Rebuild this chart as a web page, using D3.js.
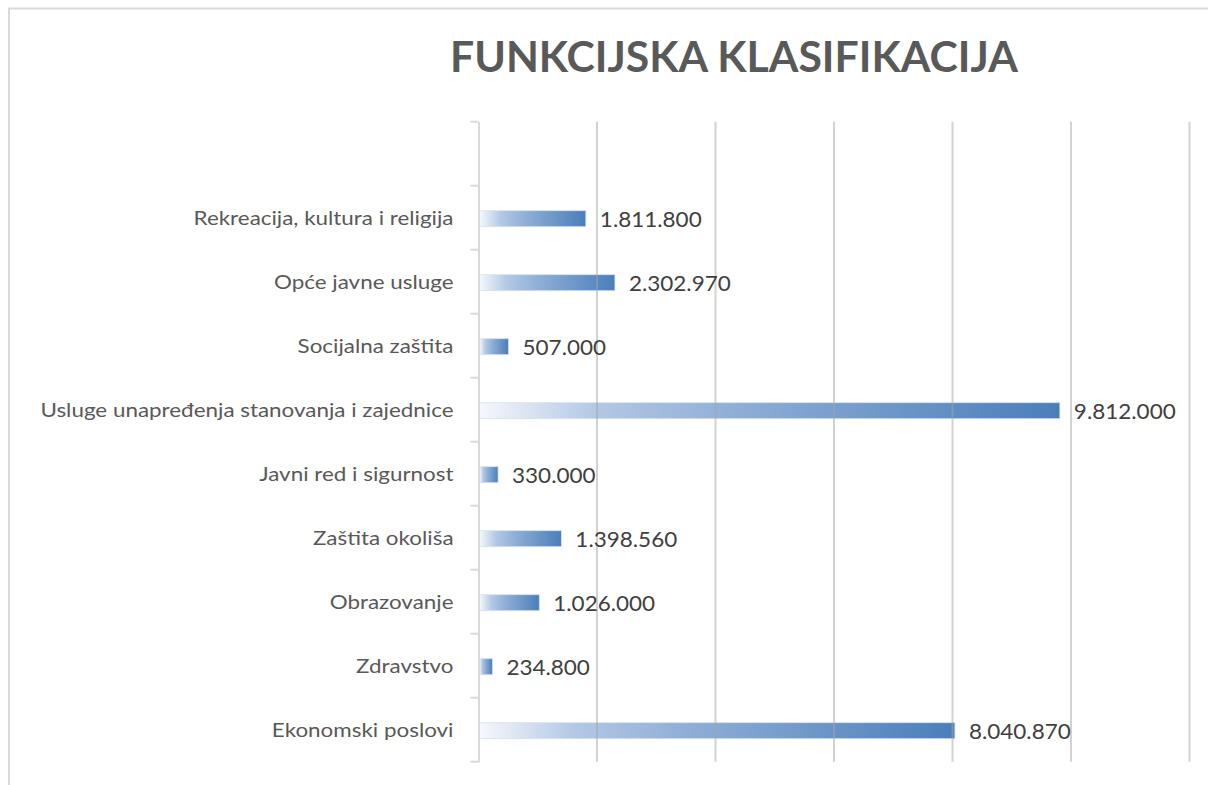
<!DOCTYPE html>
<html>
<head>
<meta charset="utf-8">
<script src="https://cdn.jsdelivr.net/npm/d3@7"></script>
<style>
  html, body { margin: 0; padding: 0; background: #fff; }
  svg { display: block; }
</style>
</head>
<body>
<svg id="chart" width="1208" height="785"></svg>
<script>
const title = "FUNKCIJSKA KLASIFIKACIJA";
// categories top to bottom (first slot empty, as in the reference)
const categories = [
  "",
  "Rekreacija, kultura i religija",
  "Opće javne usluge",
  "Socijalna zaštita",
  "Usluge unapređenja stanovanja i zajednice",
  "Javni red i sigurnost",
  "Zaštita okoliša",
  "Obrazovanje",
  "Zdravstvo",
  "Ekonomski poslovi"
];
const values = [null, 1811800, 2302970, 507000, 9812000, 330000, 1398560, 1026000, 234800, 8040870];
const xTicks = [0, 2000000, 4000000, 6000000, 8000000, 10000000, 12000000];

const svg = d3.select("#chart");
const locale = d3.formatLocale({decimal: ",", thousands: ".", grouping: [3], currency: ["", " kn"]});
const fmt = locale.format(",d");

// chart frame
svg.append("path")
  .attr("d", "M9,785 V8.5 H1208")
  .attr("fill", "none").attr("stroke", "#d9d9d9").attr("stroke-width", 2);

// title
svg.append("text")
  .attr("x", 734).attr("y", 72)
  .attr("text-anchor", "middle")
  .attr("font-family", "Lato, 'Open Sans', sans-serif")
  .attr("font-weight", "bold")
  .attr("font-size", 42)
  .attr("fill", "#595959")
  .attr("textLength", 568)
  .attr("lengthAdjust", "spacingAndGlyphs")
  .text(title);

const x = d3.scaleLinear().domain([0, 12000000]).range([478.5, 1189.5]);
const y = d3.scaleBand().domain(categories).range([121.7, 761.7]).padding(0);

// gradient
const defs = svg.append("defs");
const grad = defs.append("linearGradient").attr("id", "barGrad")
  .attr("x1", "0%").attr("x2", "100%").attr("y1", "0%").attr("y2", "0%");
[[0, "#f6f8fc"], [0.2, "#b3c8e4"], [0.45, "#8dadd6"], [1, "#4a7ebb"]].forEach(([o, c]) =>
  grad.append("stop").attr("offset", o).attr("stop-color", c));

const data = categories.map((c, i) => ({cat: c, val: values[i]})).filter(d => d.val != null);

// bars
const barH = 16;
svg.append("g").selectAll("rect").data(data).join("rect")
  .attr("x", x(0) + 1)
  .attr("y", d => y(d.cat) + y.bandwidth() / 2 - barH / 2 + 1)
  .attr("width", d => x(d.val) - x(0) - 1)
  .attr("height", barH)
  .attr("fill", "url(#barGrad)")
  .attr("stroke", "#d5e1f0").attr("stroke-width", 0.8);

// gridlines (drawn over bars, semi-transparent)
svg.append("g").selectAll("line").data(xTicks.slice(1)).join("line")
  .attr("x1", d => x(d)).attr("x2", d => x(d))
  .attr("y1", 121.7).attr("y2", 761.7)
  .attr("stroke", "#a6a6a6").attr("stroke-opacity", 0.5).attr("stroke-width", 2);

// category axis
const yAxis = d3.axisLeft(y).tickSize(0).tickPadding(25);
const gy = svg.append("g").attr("transform", `translate(${x(0)},1)`).call(yAxis);
gy.select(".domain").attr("stroke", "#d9d9d9").attr("stroke-width", 2).attr("transform", "translate(0,-1)");
gy.selectAll("text")
  .attr("font-family", "Lato, 'Open Sans', sans-serif")
  .attr("font-size", 20)
  .attr("fill", "#595959")
  .each(function () {
    const len = this.getComputedTextLength();
    if (len > 0) d3.select(this).attr("textLength", len * 1.12).attr("lengthAdjust", "spacingAndGlyphs");
  });
// ticks between categories
const boundaries = categories.map(c => y(c)).concat([y(categories[categories.length - 1]) + y.bandwidth()]);
svg.append("g").selectAll("line").data(boundaries).join("line")
  .attr("x1", x(0) - 8).attr("x2", x(0))
  .attr("y1", d => d).attr("y2", d => d)
  .attr("stroke", "#d9d9d9").attr("stroke-width", 2);

// value labels
svg.append("g").selectAll("text").data(data).join("text")
  .attr("x", d => x(d.val) + 14)
  .attr("y", d => y(d.cat) + y.bandwidth() / 2 + 1.5)
  .attr("dy", "0.36em")
  .attr("font-family", "Lato, 'Open Sans', sans-serif")
  .attr("font-size", 21)
  .attr("fill", "#404040")
  .text(d => fmt(d.val))
  .each(function () {
    const len = this.getComputedTextLength();
    d3.select(this).attr("textLength", len * 1.07).attr("lengthAdjust", "spacingAndGlyphs");
  });
</script>
</body>
</html>
